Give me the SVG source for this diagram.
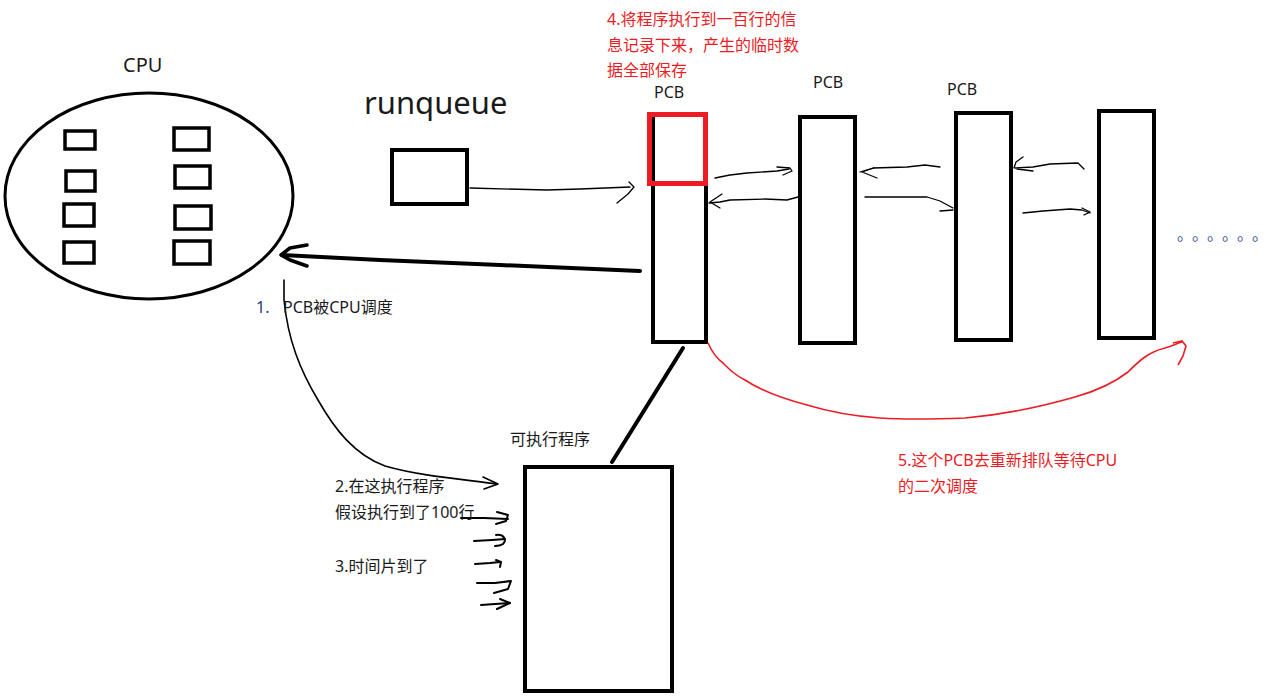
<svg xmlns="http://www.w3.org/2000/svg" width="1270" height="700" viewBox="0 0 1270 700">
<style>
.t{font-family:"Noto Sans","Noto Sans CJK SC",sans-serif;font-size:16px;fill:#1a1a1a}
.red{fill:#ed1c24}
.box{fill:none;stroke:#000;stroke-width:4}
.hand{fill:none;stroke:#000;stroke-width:1.3;stroke-linecap:round;stroke-linejoin:round}
.thick{fill:none;stroke:#000;stroke-width:4;stroke-linecap:round;stroke-linejoin:round}
</style>
<rect width="1270" height="700" fill="#fff"/>

<g id="cpu">
<text class="t" x="123" y="72" style="font-size:20px">CPU</text>
<ellipse cx="149" cy="196" rx="144" ry="103" fill="none" stroke="#000" stroke-width="3"/>
<rect class="box" x="65" y="131" width="30" height="18" style="stroke-width:3.5"/>
<rect class="box" x="66" y="171" width="29" height="20" style="stroke-width:3.5"/>
<rect class="box" x="64" y="204" width="30" height="22" style="stroke-width:3.5"/>
<rect class="box" x="64" y="242" width="30" height="21" style="stroke-width:3.5"/>
<rect class="box" x="174" y="128" width="35" height="22" style="stroke-width:3.5"/>
<rect class="box" x="175" y="166" width="35" height="22" style="stroke-width:3.5"/>
<rect class="box" x="175" y="206" width="36" height="23" style="stroke-width:3.5"/>
<rect class="box" x="174" y="241" width="36" height="23" style="stroke-width:3.5"/>
</g>

<g id="runqueue">
<text class="t" x="364" y="114" style="font-size:31px">runqueue</text>
<rect class="box" x="392" y="150" width="75" height="54"/>
</g>

<g id="pcb1">
<text class="t" x="654" y="98">PCB</text>
<rect class="box" x="653" y="115" width="53" height="227"/>
<rect x="649.5" y="114.5" width="56" height="69" fill="none" stroke="#ed1c24" stroke-width="5"/>
</g>
<g id="pcb2">
<text class="t" x="813" y="88">PCB</text>
<rect class="box" x="800" y="117" width="55" height="226"/>
</g>
<g id="pcb3">
<text class="t" x="947" y="95">PCB</text>
<rect class="box" x="956" y="113" width="55" height="227"/>
</g>
<g id="pcb4">
<rect class="box" x="1099" y="111" width="55" height="227"/>
</g>
<g id="more">
<text x="1177 1192 1207 1222 1237 1252" y="240" style="font-family:'Noto Sans CJK SC',sans-serif;font-size:16px;fill:#2a4a8c">。。。。。。</text>
</g>

<g id="program">
<text class="t" x="510" y="445">可执行程序</text>
<rect class="box" x="525" y="467" width="147" height="224"/>
</g>

<g id="connectors">
<!-- runqueue to PCB -->
<polyline class="hand" points="470,188 547,190 580,189 630,187"/>
<polyline class="hand" points="629,182 634,187 628,194 617,203"/>
<!-- PCB1 -> PCB2 -->
<polyline class="hand" points="715,178 730,175 747,173 777,171 789,169"/>
<polyline class="hand" points="777,167 790,168 792,171 783,175"/>
<!-- PCB2 -> PCB1 -->
<polyline class="hand" points="798,197 787,200 765,199 730,200 720,202 709,203"/>
<polyline class="hand" points="722,194 710,202 720,208"/>
<!-- PCB3 -> PCB2 -->
<polyline class="hand" points="940,167 925,165 907,167 873,168 860,172"/>
<polyline class="hand" points="874,168 862,172 877,178"/>
<!-- PCB2 -> PCB3 -->
<polyline class="hand" points="865,197 927,197 940,201 953,208"/>
<polyline class="hand" points="940,211 953,210"/>
<!-- PCB4 -> PCB3 -->
<polyline class="hand" points="1084,169 1078,163 1050,164 1033,167 1015,168"/>
<polyline class="hand" points="1023,157 1016,162 1014,168"/>
<polyline class="hand" points="1017,169 1033,171"/>
<!-- PCB3 -> PCB4 -->
<polyline class="hand" points="1023,213 1043,211 1070,209 1082,210 1090,213"/>
<polyline class="hand" points="1082,208 1090,212 1084,215"/>
<!-- PCB1 -> CPU thick -->
<polyline class="thick" points="640,271 500,265 380,260 282,255"/>
<polyline class="thick" points="307,245 290,248 281,255 290,260 307,266" style="stroke-width:3.5"/>
<!-- PCB1 to program -->
<line class="thick" x1="683" y1="348" x2="612" y2="462"/>
<!-- CPU to program curve -->
<path class="hand" d="M284,280 L284,300 C288,340 300,370 318,400 C335,430 355,455 385,466 C420,476 460,479 497,484" style="stroke-width:1.6"/>
<polyline class="hand" points="483,477 498,484 484,489" style="stroke-width:1.6"/>
<!-- small arrows -->
<polyline class="hand" points="461,518 484,518 508,519" style="stroke-width:2"/>
<polyline class="hand" points="497,512 508,515 506,521 496,524" style="stroke-width:2"/>
<polyline class="hand" points="474,541 492,540 505,539" style="stroke-width:2"/>
<path class="hand" d="M496,535 C504,534 507,540 503,544 C500,546 497,546 495,546" style="stroke-width:2"/>
<polyline class="hand" points="475,564 490,563 500,562" style="stroke-width:2"/>
<polyline class="hand" points="496,560 501,562 500,567" style="stroke-width:2"/>
<polyline class="hand" points="477,583 495,583 511,581 508,589 494,593" style="stroke-width:2"/>
<polyline class="hand" points="481,605 495,604 510,603" style="stroke-width:2"/>
<polyline class="hand" points="500,599 510,603 497,609" style="stroke-width:2"/>
<!-- red requeue curve -->
<path d="M708,343 C712,352 716,358 723,363 C730,370 735,375 745,380 C760,390 780,398 807,405 C830,412 850,416 880,418 C910,420 940,419 965,418 C1000,415 1040,407 1075,397 C1100,390 1115,382 1128,372 C1138,362 1148,352 1165,348 C1172,346 1178,343 1182,342" fill="none" stroke="#ed1c24" stroke-width="1.6"/>
<polyline points="1173,343 1182,341 1186,346 1183,356 1178,365" fill="none" stroke="#ed1c24" stroke-width="1.6"/>
</g>

<g id="annotations">
<text class="t red" x="607" y="25">4.将程序执行到一百行的信</text>
<text class="t red" x="607" y="51">息记录下来，产生的临时数</text>
<text class="t red" x="607" y="76">据全部保存</text>
<text class="t" x="256" y="313" style="fill:#1f3d7a">1.</text>
<text class="t" x="283" y="313">PCB被CPU调度</text>
<text class="t" x="335" y="492">2.在这执行程序</text>
<text class="t" x="335" y="518">假设执行到了100行</text>
<text class="t" x="335" y="572">3.时间片到了</text>
<text class="t red" x="898" y="466">5.这个PCB去重新排队等待CPU</text>
<text class="t red" x="898" y="492">的二次调度</text>
</g>
</svg>
